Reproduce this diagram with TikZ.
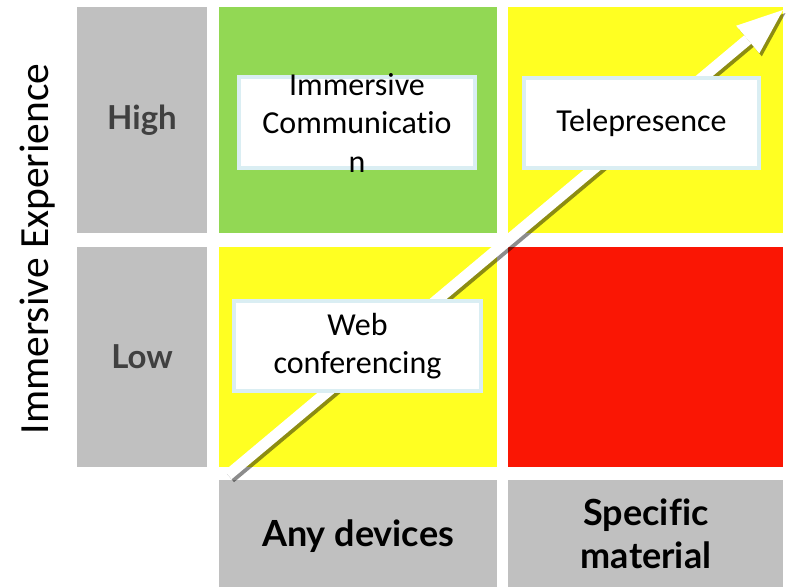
\documentclass[tikz,border=0pt]{standalone}
\usepackage{fontspec}
\setmainfont[Ligatures=NoCommon]{Carlito}
\newfontfamily\latofont[Ligatures=NoCommon]{Lato}
\usetikzlibrary{arrows.meta}

\definecolor{cellgreen}{RGB}{146,216,84}
\definecolor{cellyellow}{RGB}{255,255,34}
\definecolor{cellred}{RGB}{250,22,4}
\definecolor{cellgray}{RGB}{192,192,192}
\definecolor{boxedge}{RGB}{218,238,243}
\definecolor{levelgray}{RGB}{64,64,64}

\begin{document}
\begin{tikzpicture}[x=1pt,y=-1pt,
  cell/.style={rectangle, inner sep=0pt, outer sep=0pt, draw=none},
  wideupper/.style={cell, minimum width=278pt, minimum height=226pt},
  narrowupper/.style={cell, minimum width=275pt, minimum height=226pt},
  widelower/.style={cell, minimum width=278pt, minimum height=220pt},
  narrowlower/.style={cell, minimum width=275pt, minimum height=220pt},
  levelcell/.style={cell, fill=cellgray, minimum width=130pt},
  levelText/.style={font=\latofont\bfseries\fontsize{33}{36}\selectfont, text=levelgray},
  kindText/.style={font=\latofont\bfseries\fontsize{36}{43}\selectfont, text=black, align=center},
  labelbox/.style={rectangle, draw=boxedge, line width=4pt, fill=white, inner sep=0pt},
  labeltext/.style={font=\fontsize{32}{38.5}\selectfont, align=center, inner sep=0pt},
]
\useasboundingbox (0,0) rectangle (787,587);

% level column
\node[levelcell, minimum height=226pt] (high) at (142,120) {};
\node[levelcell, minimum height=220pt] (low) at (142,357) {};
\node[levelText] (hightext) at (high.center) {High};
\node[levelText] (lowtext) at (low.center) {Low};

% quadrants
\node[wideupper, fill=cellgreen] (q11) at (358,120) {};
\node[narrowupper, fill=cellyellow] (q12) at (645.5,120) {};
\node[widelower, fill=cellyellow] (q21) at (358,357) {};
\node[narrowlower, fill=cellred] (q22) at (645.5,357) {};

% device row
\node[cell, fill=cellgray, minimum width=278pt, minimum height=107pt] (anydev) at (358,533.5) {};
\node[cell, fill=cellgray, minimum width=275pt, minimum height=107pt] (specmat) at (645.5,533.5) {};
\node[kindText] (anytext) at (358,536) {Any devices};
\node[kindText] (spectext) at (646,533.5) {Specific\\material};

% axis title
\node[font=\fontsize{41.5}{46}\selectfont, rotate=90] (axis) at (38,249) {Immersive Experience};

% diagonal arrow with its shadow
\coordinate (tail) at (228,475);
\coordinate (tip) at (783,10);
\draw[black, opacity=0.45, line width=11pt,
      -{Triangle[length=46pt, width=36pt, line width=0pt]}]
  ([shift={(2.5,3)}]tail) -- ([shift={(2.5,3)}]tip);
\draw[white, line width=11pt,
      -{Triangle[length=46pt, width=36pt, line width=0pt]}]
  (tail) -- (tip);

% example labels
\node[labelbox, minimum width=236pt, minimum height=91pt] (imbox) at (357,122.5) {};
\node[labeltext] (imtext) at (imbox.center) {Immersive\\Communicatio\\n};
\node[labelbox, minimum width=235pt, minimum height=90pt] (telebox) at (641.5,123) {};
\node[labeltext] (teletext) at (telebox.center) {Telepresence};
\node[labelbox, minimum width=247pt, minimum height=90pt] (webbox) at (357.5,346) {};
\node[labeltext] (webtext) at (webbox.center) {Web\\conferencing};
\end{tikzpicture}
\end{document}
